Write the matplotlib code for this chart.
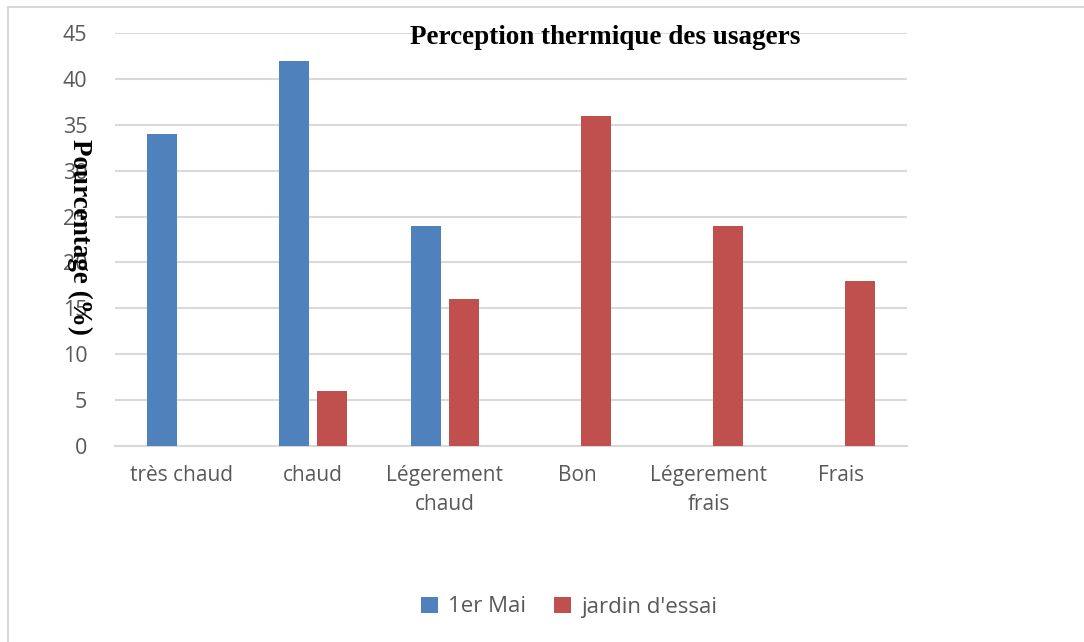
import matplotlib
matplotlib.use("Agg")
import matplotlib.pyplot as plt
import numpy as np
from matplotlib.patches import Rectangle

categories = ["très chaud", "chaud", "Légerement\nchaud", "Bon", "Légerement\nfrais", "Frais"]
mai = [34, 42, 24, 0, 0, 0]
jardin = [0, 6, 16, 36, 24, 18]
series_names = ["1er Mai", "jardin d'essai"]
yticks = [0, 5, 10, 15, 20, 25, 30, 35, 40, 45]

W, H = 1084, 642
fig = plt.figure(figsize=(W/100, H/100), dpi=100)
ax = fig.add_axes([115/W, 1-446/H, (907-115)/W, (446-33)/H])

x = np.arange(len(categories))
bw = 0.227
gap = 0.06
ax.bar(x - (bw+gap)/2, mai, bw, color="#4F81BD", label=series_names[0], zorder=3)
ax.bar(x + (bw+gap)/2, jardin, bw, color="#C0504D", label=series_names[1], zorder=3)

ax.set_xlim(-0.5, len(categories)-0.5)
ax.set_ylim(0, 45)
ax.set_yticks(yticks)
ax.yaxis.grid(True, color="#d9d9d9", linewidth=1.5, zorder=0)
for s in ["top", "right", "left"]:
    ax.spines[s].set_visible(False)
ax.spines["bottom"].set_color("#d9d9d9")
ax.spines["bottom"].set_linewidth(1.5)
ax.tick_params(axis="both", length=0, labelcolor="#595959")
ax.tick_params(axis="y", pad=20, labelsize=15.5)
ax.tick_params(axis="x", pad=14)
ax.set_xticks(x)
ax.set_xticklabels(categories, fontfamily="Open Sans", fontsize=15, color="#595959", linespacing=1.45)
for lab in ax.get_yticklabels():
    lab.set_fontfamily("Open Sans")

fig.text(605/W, 1-38/H, "Perception thermique des usagers", ha="center", va="center",
         fontfamily="Liberation Serif", fontweight="bold", fontsize=19.5, color="black")
fig.text(80/W, 1-237/H, "Pourcentage (%)", ha="center", va="center", rotation=270,
         fontfamily="Liberation Serif", fontweight="bold", fontsize=19.5, color="black")

leg = fig.legend(loc="center", bbox_to_anchor=(569/W, 1-607/H), ncol=2, frameon=False,
                 handlelength=0.75, handleheight=0.75, columnspacing=1.3, handletextpad=0.45,
                 prop={"family": "Open Sans", "size": 16})
for t in leg.get_texts():
    t.set_color("#595959")

fig.patches.append(Rectangle((8/W, -0.1), 1.2, 1-7/H+0.1, transform=fig.transFigure,
                             fill=False, edgecolor="#d9d9d9", linewidth=1.5))

fig.savefig("out.png", dpi=100)
